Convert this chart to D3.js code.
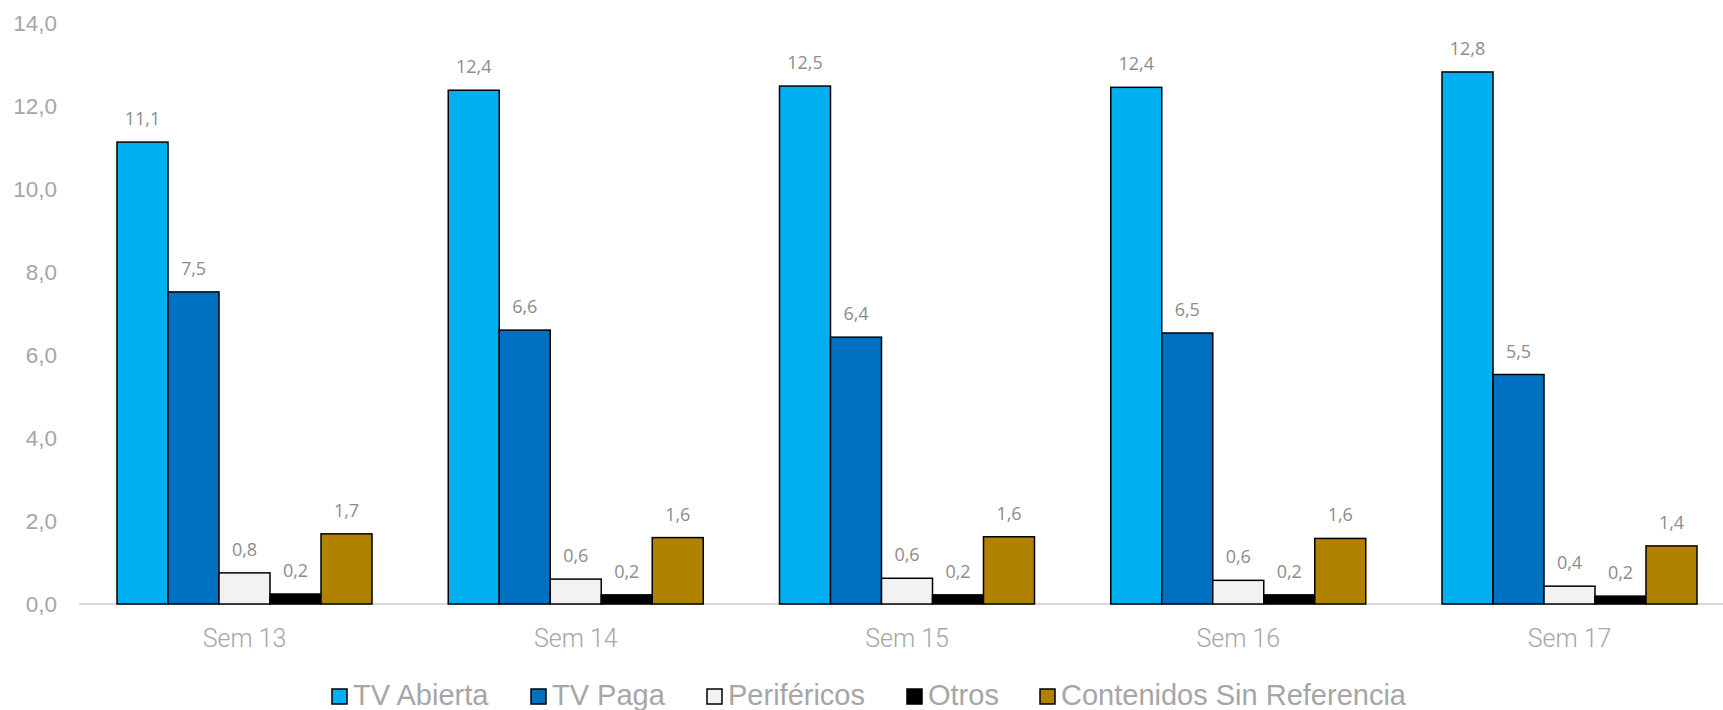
<!DOCTYPE html>
<html>
<head>
<meta charset="utf-8">
<script src="https://cdn.jsdelivr.net/npm/d3@7"></script>
<style>
  body { margin: 0; background: #fff; }
</style>
</head>
<body>
<div id="chart"></div>
<script>
// data
var weeks = ["Sem 13", "Sem 14", "Sem 15", "Sem 16", "Sem 17"];
var series = ["TV Abierta", "TV Paga", "Periféricos", "Otros", "Contenidos Sin Referencia"];
var colors = ["#00B0F0", "#0070C0", "#F2F2F2", "#000000", "#B08200"];
var tvAbierta = [11.13, 12.38, 12.48, 12.45, 12.82];
var tvPaga = [7.52, 6.6, 6.43, 6.53, 5.53];
var perifericos = [0.75, 0.6, 0.62, 0.57, 0.43];
var otros = [0.24, 0.22, 0.22, 0.22, 0.19];
var contenidos = [1.69, 1.6, 1.62, 1.58, 1.4];
var yTicks = [0, 2, 4, 6, 8, 10, 12, 14];

var values = [tvAbierta, tvPaga, perifericos, otros, contenidos];

var width = 1723, height = 710;

var svg = d3.select("#chart")
  .append("svg")
    .attr("width", width)
    .attr("height", height);

var comma = function(v) { return d3.format(".1f")(v).replace(".", ","); };

var y = d3.scaleLinear().domain([0, 14]).range([604, 23]);

// groups: step 331.25, 76px gap between groups
var x0 = d3.scaleBand().domain(weeks).range([79, 79 + 5 * 331.25]).padding(0);
var x1 = d3.scaleBand().domain(series).range([38, 293]).padding(0);

// baseline
svg.append("line")
  .attr("x1", 79).attr("x2", width)
  .attr("y1", y(0)).attr("y2", y(0))
  .attr("stroke", "#D9D9D9")
  .attr("stroke-width", 2);

// y axis labels
svg.selectAll(".ytick")
  .data(yTicks)
  .enter()
  .append("text")
    .attr("x", 57)
    .attr("y", function(d) { return y(d); })
    .attr("dy", "0.36em")
    .attr("text-anchor", "end")
    .attr("font-family", "'Liberation Sans', Arial, sans-serif")
    .attr("font-size", "22.5px")
    .attr("fill", "#A6A6A6")
    .text(comma);

// x labels
svg.selectAll(".xlab")
  .data(weeks)
  .enter()
  .append("text")
    .attr("x", function(d) { return x0(d) + x0.bandwidth() / 2; })
    .attr("y", 647)
    .attr("text-anchor", "middle")
    .attr("font-family", "Roboto, sans-serif")
    .attr("font-weight", 300)
    .attr("font-size", "25px")
    .attr("fill", "#A6A6A6")
    .text(function(d) { return d; });

// bars
var rows = [];
weeks.forEach(function(w, i) {
  series.forEach(function(s, j) {
    rows.push({week: w, serie: s, value: values[j][i], color: colors[j]});
  });
});

svg.selectAll("rect.bar")
  .data(rows)
  .enter()
  .append("rect")
    .attr("class", "bar")
    .attr("x", function(d) { return x0(d.week) + x1(d.serie); })
    .attr("y", function(d) { return y(d.value); })
    .attr("width", x1.bandwidth())
    .attr("height", function(d) { return y(0) - y(d.value); })
    .style("fill", function(d) { return d.color; })
    .style("stroke", "black")
    .style("stroke-width", 1.5);

// value labels
svg.selectAll(".vlab")
  .data(rows)
  .enter()
  .append("text")
    .attr("x", function(d) { return x0(d.week) + x1(d.serie) + x1.bandwidth() / 2; })
    .attr("y", function(d) { return y(d.value) - 17; })
    .attr("text-anchor", "middle")
    .attr("font-family", "'Open Sans', sans-serif")
    .attr("font-size", "18px")
    .attr("fill", "#8C8C8C")
    .text(function(d) { return comma(d.value); });

// legend
var legendX = [332, 531, 707, 907, 1040];
var legend = svg.selectAll(".leg")
  .data(series)
  .enter()
  .append("g")
    .attr("transform", function(d, i) { return "translate(" + legendX[i] + ",689)"; });

legend.append("rect")
  .attr("width", 15)
  .attr("height", 15)
  .style("fill", function(d, i) { return colors[i]; })
  .style("stroke", "black")
  .style("stroke-width", 1.5);

legend.append("text")
  .attr("x", 21)
  .attr("y", 16)
  .attr("font-family", "'Liberation Sans', Arial, sans-serif")
  .attr("font-size", "29px")
  .attr("fill", "#A6A6A6")
  .text(function(d) { return d; });
</script>
</body>
</html>
